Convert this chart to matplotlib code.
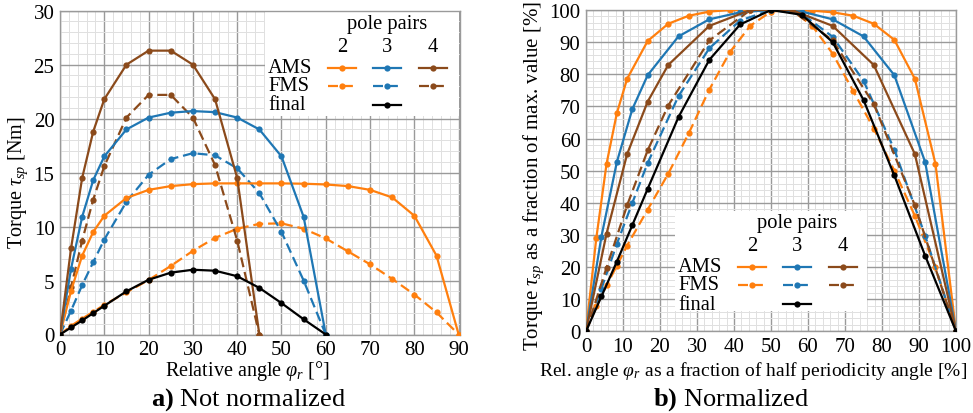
import numpy as np
import matplotlib
matplotlib.use('Agg')
import matplotlib.pyplot as plt
from matplotlib.lines import Line2D
from matplotlib.patches import Rectangle
from matplotlib.ticker import MultipleLocator

plt.rcParams['font.family'] = 'Liberation Serif'
plt.rcParams['mathtext.fontset'] = 'custom'
plt.rcParams['mathtext.rm'] = 'Liberation Serif'
plt.rcParams['mathtext.it'] = 'Liberation Serif:italic'
plt.rcParams['mathtext.bf'] = 'Liberation Serif:bold'

###########################
### Data ###
###########################
# relative angle [deg], 2 pole pairs
ang2 = [0, 2.5, 5, 7.5, 10, 15, 20, 25, 30, 35, 40, 45, 50, 55, 60, 65, 70, 75, 80, 85, 90]
ams2 = [0, 4.05, 7.3, 9.5, 11.0, 12.65, 13.4, 13.75, 13.93, 14.0, 14.0, 14.0, 14.0, 13.97, 13.9,
        13.75, 13.4, 12.7, 11.0, 7.3, 0]
fms2 = [0, 0.8, 1.47, 2.1, 2.75, 3.9, 5.05, 6.35, 7.75, 8.95, 9.8, 10.25, 10.3, 9.8, 8.9,
        7.7, 6.5, 5.15, 3.7, 2.05, 0]
# 3 pole pairs
ang3 = [0, 2.5, 5, 7.5, 10, 15, 20, 25, 30, 35, 40, 45, 50, 55, 60]
ams3 = [0, 6.1, 10.9, 14.3, 16.5, 19.0, 20.1, 20.55, 20.7, 20.6, 20.1, 19.0, 16.5, 10.9, 0]
fms3 = [0, 2.22, 4.57, 6.7, 8.8, 12.3, 14.8, 16.25, 16.8, 16.6, 15.4, 13.1, 9.5, 5.0, 0]
final = [0, 0.65, 1.3, 1.98, 2.66, 4.0, 5.07, 5.73, 6.0, 5.91, 5.4, 4.32, 2.91, 1.41, 0]
# 4 pole pairs
ang4 = [0, 2.5, 5, 7.5, 10, 15, 20, 25, 30, 35, 40, 45]
ams4 = [0, 8.0, 14.5, 18.8, 21.8, 25.0, 26.3, 26.3, 25.0, 21.8, 14.5, 0]
fms4 = [0, 4.4, 8.7, 12.5, 15.6, 20.1, 22.2, 22.2, 20.1, 15.7, 8.7, 0]

pole_pairs = ['2', '3', '4']
row_names = ['AMS', 'FMS', 'final']

cOrange = '#ff7f0e'
cBlue = '#1f77b4'
cBrown = '#8b4a1b'
dashed = (0, (4.5, 2.2))

# (x, y, colour, linestyle)
curves = [
    (ang2, fms2, cOrange, dashed),
    (ang3, fms3, cBlue, dashed),
    (ang4, fms4, cBrown, dashed),
    (ang2, ams2, cOrange, '-'),
    (ang3, ams3, cBlue, '-'),
    (ang4, ams4, cBrown, '-'),
    (ang3, final, 'k', '-'),
]

W, H = 973, 414
fsTick = 15
fsLeg = 14.8
fsCap = 19


def style_axes(ax, xmaj, xmin, ymaj, ymin):
    ax.xaxis.set_major_locator(MultipleLocator(xmaj))
    ax.xaxis.set_minor_locator(MultipleLocator(xmin))
    ax.yaxis.set_major_locator(MultipleLocator(ymaj))
    ax.yaxis.set_minor_locator(MultipleLocator(ymin))
    ax.grid(which='major', color='#9a9a9a', lw=1.0)
    ax.grid(which='minor', color='#e0e0e0', lw=0.7)
    ax.set_axisbelow(True)
    for sp in ax.spines.values():
        sp.set_color('#9a9a9a')
        sp.set_linewidth(1.0)
    ax.tick_params(which='both', length=0, labelsize=fsTick, pad=4)


def pole_legend(ax, bx, by, bw, bh):
    '''
    Table-like legend (pole pairs x machine type), box top-left at figure pixel (bx, by)
    '''
    pos = ax.get_position()

    def tr(dx, dy):
        fx = (bx + dx) / W
        fy = 1 - (by + dy) / H
        return (fx - pos.x0) / pos.width, (fy - pos.y0) / pos.height

    x0, y0 = tr(0, bh)
    x1, y1 = tr(bw, 0)
    ax.add_patch(Rectangle((x0, y0), x1 - x0, y1 - y0, transform=ax.transAxes,
                           facecolor='white', edgecolor='none', zorder=1))
    tx, ty = tr(122, 12)
    ax.text(tx, ty, 'pole pairs', transform=ax.transAxes, ha='center', va='center',
            fontsize=fsLeg, zorder=5)
    colx = [77, 122, 168]
    for cx, lab in zip(colx, pole_pairs):
        tx, ty = tr(cx, 35)
        ax.text(tx, ty, lab, transform=ax.transAxes, ha='center', va='center',
                fontsize=fsLeg, zorder=5)
    rowy = [56, 74, 93]
    for ry, lab in zip(rowy, row_names):
        tx, ty = tr(3, ry)
        ax.text(tx, ty, lab, transform=ax.transAxes, ha='left', va='center',
                fontsize=fsLeg, zorder=5)
    samples = [(0, 0, cOrange, '-'), (0, 1, cBlue, '-'), (0, 2, cBrown, '-'),
               (1, 0, cOrange, dashed), (1, 1, cBlue, dashed), (1, 2, cBrown, dashed),
               (2, 1, 'k', '-')]
    for r, c, col, ls in samples:
        xa, ya = tr(colx[c] - 14, rowy[r])
        xb, _ = tr(colx[c] + 14, rowy[r])
        ax.add_line(Line2D([xa, xb], [ya, ya], transform=ax.transAxes, color=col, ls=ls,
                           lw=1.6, zorder=5))
        ax.add_line(Line2D([(xa + xb) / 2], [ya], transform=ax.transAxes, color=col,
                           marker='o', ms=4.5, mew=0, zorder=6))


fig = plt.figure(figsize=(W / 100, H / 100), dpi=100)

# a) not normalized
ax1 = fig.add_axes([60 / W, 1 - 335.5 / H, 400 / W, 323.8 / H])
for x, y, col, ls in curves:
    ax1.plot(x, y, color=col, ls=ls, lw=1.6, marker='o', ms=4.5, mew=0, zorder=3)
ax1.set_xlim(0, 90.3)
ax1.set_ylim(0, 30)
style_axes(ax1, 10, 2, 5, 1)
ax1.set_xlabel(r'Relative angle $\varphi_r$ [°]', fontsize=14.5)
ax1.set_ylabel(r'Torque $\tau_{sp}$ [Nm]', fontsize=14.5)
ax1.xaxis.set_label_coords(0.4675, -0.074)
ax1.yaxis.set_label_coords(-0.074, 0.4725)
pole_legend(ax1, 265, 12.5, 194, 104)
fig.text(249 / W, 1 - 400 / H, r'$\mathbf{a)}$ Not normalized', ha='center', va='center',
         fontsize=fsCap)

# b) normalized to half periodicity angle and max. value
ax2 = fig.add_axes([586 / W, 1 - 332.3 / H, 370 / W, 321.3 / H])
for x, y, col, ls in curves:
    x = np.array(x, dtype=float)
    y = np.array(y, dtype=float)
    ax2.plot(x / x[-1] * 100, y / y.max() * 100, color=col, ls=ls, lw=1.6, marker='o',
             ms=4.5, mew=0, zorder=3)
ax2.set_xlim(0, 100)
ax2.set_ylim(0, 100)
style_axes(ax2, 10, 2, 10, 2)
ax2.set_xlabel(r'Rel. angle $\varphi_r$ as a fraction of half periodicity angle [%]',
               fontsize=14)
ax2.set_ylabel(r'Torque $\tau_{sp}$ as a fraction of max. value [%]', fontsize=15)
ax2.xaxis.set_label_coords(0.451, -0.085)
ax2.yaxis.set_label_coords(-0.108, 0.485)
pole_legend(ax2, 675, 212, 192, 100)
fig.text(731 / W, 1 - 400 / H, r'$\mathbf{b)}$ Normalized', ha='center', va='center',
         fontsize=fsCap)

fig.savefig('out.png', dpi=100)
